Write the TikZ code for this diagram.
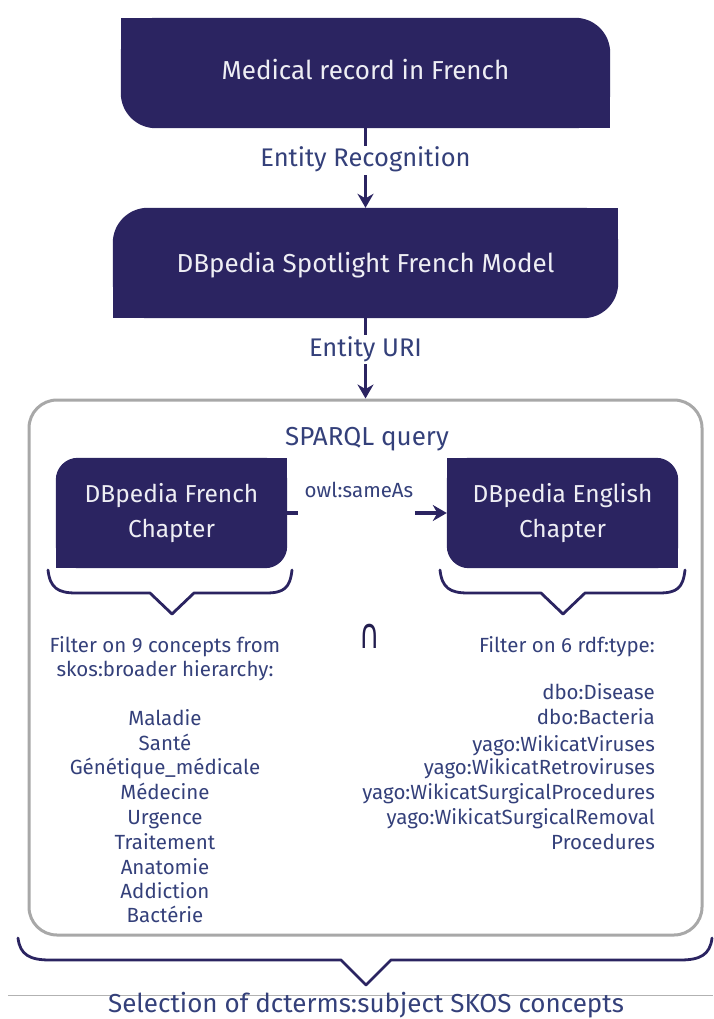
\documentclass[tikz,border=0pt]{standalone}
\usepackage{fontspec}
\setmainfont{Fira Sans}
\newfontfamily\symbolfont{DejaVu Sans}
\usetikzlibrary{arrows.meta,backgrounds}
\definecolor{navy}{HTML}{2B2461}
\definecolor{lblblue}{HTML}{34407A}
\definecolor{boxtext}{HTML}{EEEEF4}
\definecolor{framegrey}{HTML}{A8A8A8}
% rounded at top right and bottom left, sharp at top left and bottom right
\newcommand\shapeTRBL[2]{%
  \fill[navy, rounded corners=#2] (#1.south west) rectangle (#1.north east);
  \fill[navy] (#1.north west) rectangle ++(#2,#2);
  \fill[navy] (#1.south east) rectangle ++(-#2,-#2);}
% rounded at top left and bottom right, sharp at top right and bottom left
\newcommand\shapeTLBR[2]{%
  \fill[navy, rounded corners=#2] (#1.south west) rectangle (#1.north east);
  \fill[navy] (#1.north east) rectangle ++(-#2,#2);
  \fill[navy] (#1.south west) rectangle ++(#2,-#2);}
\begin{document}
\begin{tikzpicture}[x=1pt,y=-1pt,
  boxnode/.style={inner sep=0, text=boxtext, font=\fontsize{26}{30}\selectfont, text height=18.5pt, text depth=0pt},
  chapnode/.style={inner sep=0, text=boxtext, font=\fontsize{24.5}{35}\selectfont, align=center, minimum width=231pt, minimum height=110pt},
  lbl/.style={text=lblblue, font=\fontsize{25.5}{28}\selectfont, fill=white, inner sep=4pt, text height=17pt, text depth=4pt},
  arr/.style={draw=navy, line width=3.5pt, -{Stealth[length=14pt,width=16pt]}},
  bracestyle/.style={draw=navy, line width=2.8pt, line cap=round, line join=round},
  listtxt/.style={text=lblblue, font=\fontsize{20.5}{25}\selectfont, inner sep=0, text height=14.5pt, text depth=0pt},
  ]
\useasboundingbox (0,0) rectangle (713,1019);

% main boxes
\node[boxnode, text depth=6pt, minimum width=489pt, minimum height=110pt] (rec) at (365.5,73) {Medical record in French};
\node[boxnode, minimum width=505pt, minimum height=110pt] (spot) at (365.5,263) {DBpedia Spotlight French Model};
\begin{scope}[on background layer]
  \shapeTRBL{rec}{35}
  \shapeTLBR{spot}{35}
\end{scope}

% outer query frame
\node[draw=framegrey, line width=3pt, rounded corners=28pt, minimum width=673pt, minimum height=535pt] (query) at (365.5,667.5) {};
\node[text=lblblue, font=\fontsize{26}{30}\selectfont, inner sep=0, text height=18pt, text depth=0pt] (sparql) at (367,436) {SPARQL query};

% arrows
\draw[arr] (rec.south) -- node[lbl, pos=0.4] (er) {Entity Recognition} (spot.north);
\draw[arr] (spot.south) -- node[lbl, pos=0.39] (uri) {Entity URI} (query.north);

% chapters
\node[chapnode] (fr) at (171.5,513) {DBpedia French\\Chapter};
\node[chapnode] (en) at (562.5,513) {DBpedia English\\Chapter};
\begin{scope}[on background layer]
  \shapeTLBR{fr}{22}
  \shapeTRBL{en}{22}
\end{scope}
\coordinate (stubend) at ([xshift=11pt]fr.east);
\coordinate (arrstart) at ([xshift=-32pt]en.west);
\draw[navy, line width=3.5pt] (fr.east) -- (stubend);
\draw[arr] (arrstart) -- (en.west);
\node[text=lblblue, font=\fontsize{20.5}{25}\selectfont, inner sep=0, text height=14.5pt, text depth=0pt] (same) at (359,490) {owl:sameAs};

% braces
\draw[bracestyle] (48,570) .. controls (50,588) and (58,593) .. (76,593) -- (150,593) -- (172,614) -- (194,593) -- (266,593) .. controls (284,593) and (290,588) .. (292,570);
\draw[bracestyle] (440,570) .. controls (442,588) and (450,593) .. (468,593) -- (541,593) -- (563,614) -- (585,593) -- (659,593) .. controls (677,593) and (683,588) .. (685,570);

% intersection sign
\node[text=navy!80!black, inner sep=0] (cap) at (370,636) {\scalebox{1}[1.5]{\fontsize{28}{30}\selectfont\symbolfont ∩}};

% left filter text
\node[listtxt] (lf1) at (165,645) {Filter on 9 concepts from};
\node[listtxt] (lf2) at (165,669) {skos:broader hierarchy:};
\foreach [count=\i] \t/\yy in {Maladie/718, Santé/743, Génétique\_médicale/767, Médecine/792, Urgence/817, Traitement/842, Anatomie/867, Addiction/891, Bactérie/915}
  \node[listtxt, name=li\i] at (165,\yy) {\t};

% right filter text
\node[listtxt, anchor=east] (rf1) at (655,645) {Filter on 6 rdf:type:};
\foreach [count=\i] \t/\yy in {dbo:Disease/692, dbo:Bacteria/717, yago:WikicatViruses/744, yago:WikicatRetroviruses/767, yago:WikicatSurgicalProcedures/792, yago:WikicatSurgicalRemoval/817, Procedures/842}
  \node[listtxt, anchor=east, name=ri\i] at (655,\yy) {\t};

% big brace
\draw[bracestyle] (18,938) .. controls (20,955) and (30,960) .. (50,960) -- (341,960) -- (366,985) -- (391,960) -- (680,960) .. controls (700,960) and (710,955) .. (712,938);

% thin line and result
\coordinate (hl1) at (8,995);
\coordinate (hl2) at (713,995);
\draw[black!30, line width=0.8pt] (hl1) -- (hl2);
\node[text=lblblue, font=\fontsize{26}{30}\selectfont, inner sep=0, text height=18pt, text depth=0pt] (sel) at (366,1003) {Selection of dcterms:subject SKOS concepts};
\end{tikzpicture}
\end{document}
